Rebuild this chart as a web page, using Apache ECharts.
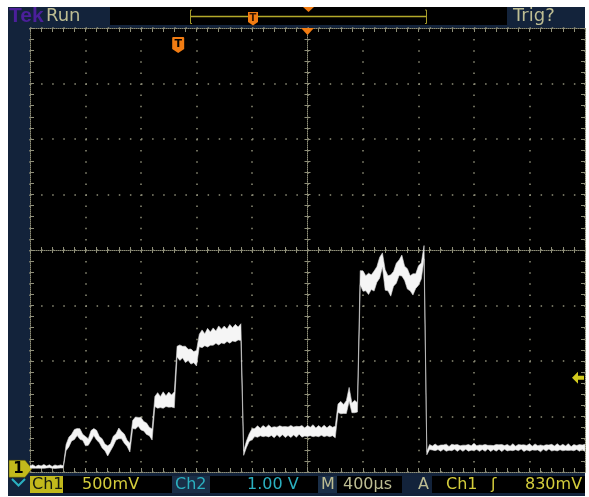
<!DOCTYPE html>
<html>
<head>
<meta charset="utf-8">
<script src="https://cdn.jsdelivr.net/npm/echarts/dist/echarts.min.js"></script>
<style>
  html, body { margin: 0; padding: 0; background: #fff; }
  #scope { width: 589px; height: 497px; }
</style>
</head>
<body>
<div id="scope"></div>
<script>
// Channel 1 acquisition: one sample every SAMPLE_US microseconds.
// ch1mV is the trace centre, ch1NoiseMv the half-height of the noise band around it.
const SAMPLE_US = 20;
const US_PER_DIV = 400;       // horizontal scale (M 400µs)
const MV_PER_DIV = 500;       // Ch1 vertical scale (500mV)
const CH1_POSITION_DIV = -3.96;  // Ch1 ground level, divisions from screen centre
const TRIGGER_MV = 830;       // A trigger level on Ch1
const TRIGGER_POS_DIV = -2.33;   // trigger point in the record, divisions from centre

const ch1Idle = [25, 30, 22, 28, 24, 30, 25, 32, 22, 28, 25, 30, 26];
const ch1Ripple = [200, 250, 290, 318, 340, 322, 292, 258, 250, 308, 340, 312,
                   272, 238, 202, 170, 202, 258, 296, 328, 312, 280, 238, 200];
const ch1Step1 = [408, 422, 432, 415, 392, 370, 345, 318];
const ch1Step2 = [615, 625, 610, 628, 618, 632, 620, 630];
const ch1Step3 = [1065, 1055, 1060, 1040, 1035, 1020, 1015, 1005];
const ch1Step4 = [1165, 1180, 1172, 1190, 1182, 1200, 1195, 1210,
                  1205, 1215, 1212, 1225, 1220, 1232, 1228, 1240];
const ch1Low = [150, 230, 290, 320, 335, 345, 340, 348, 342, 350, 345, 338,
                350, 344, 352, 340, 348, 345, 350, 342, 355, 346, 340, 350,
                345, 352, 340, 348, 344, 350, 342, 348, 345, 340];
const ch1Step5 = [555, 560, 548, 565, 680, 558, 570, 562];
const ch1High = [1730, 1700, 1680, 1675, 1690, 1700, 1760, 1820, 1890, 1710, 1680, 1660,
                 1720, 1770, 1820, 1840, 1770, 1720, 1680, 1670, 1700, 1750, 1790, 1960];
const ch1Tail = [150, 205,
  196, 202, 198, 195, 204, 199, 193, 201, 205, 197,
  200, 194, 203, 198, 196, 206, 199, 195, 202, 197,
  204, 193, 200, 198, 205, 196, 201, 199, 194, 203,
  197, 200, 206, 195, 199, 202, 196, 204, 198, 193,
  201, 197, 205, 199, 195, 202, 198, 200, 196, 204,
  193, 199, 201, 197, 203, 198];

const ch1mV = [].concat(ch1Idle, ch1Ripple, ch1Step1, ch1Step2, ch1Step3, ch1Step4,
                        ch1Low, ch1Step5, ch1High, ch1Tail);

const ch1NoiseMv = [
  // idle
  10, 16, 8, 14, 11, 17, 9, 13, 8, 16, 11, 14, 10,
  // ripple
  28, 44, 30, 46, 32, 48, 27, 42, 30, 46, 31, 44, 28, 42, 30, 46, 32, 44, 28, 48, 33, 42, 28, 40,
  // step 1
  36, 54, 40, 56, 42, 52, 38, 50,
  // step 2
  46, 70, 50, 74, 48, 68, 54, 72,
  // step 3
  48, 70, 52, 74, 50, 68, 50, 70,
  // step 4
  56, 80, 54, 84, 60, 78, 56, 86, 62, 80, 56, 84, 60, 78, 58, 76,
  // low plateau
  20, 30, 34, 50, 36, 52, 34, 50, 38, 54, 36, 50, 34, 52, 36, 50, 38, 54,
  36, 50, 34, 52, 36, 50, 38, 54, 36, 50, 34, 52, 36, 50, 38, 52,
  // step 5
  38, 56, 40, 58, 62, 44, 56, 42,
  // high plateau
  64, 92, 68, 96, 66, 90, 70, 94, 64, 92, 68, 96, 66, 90, 70, 94, 64, 92, 68, 96, 66, 88, 72, 60,
  // tail
  15, 22,
  18, 30, 16, 28, 20, 32, 17, 29, 19, 31,
  16, 28, 18, 30, 20, 32, 17, 29, 19, 31,
  16, 28, 18, 30, 20, 32, 17, 29, 19, 31,
  16, 28, 18, 30, 20, 32, 17, 29, 19, 31,
  16, 28, 18, 30, 20, 32, 17, 29, 19, 31,
  16, 28, 18, 30, 20, 32
];

// time -> horizontal divisions from centre, mV -> vertical divisions from centre
const toDivX = t => t / US_PER_DIV - 5;
const toDivY = mv => mv / MV_PER_DIV + CH1_POSITION_DIV;

const GRAT = '#8e8e78';
const NAVY = '#13233b';
const NAVY_HI = '#1a2e47';
const KHAKI = '#bdbd93';
const YELLOW = '#d4cd3c';
const CH1_FILL = '#c2b91c';
const CYAN = '#2bb0c0';
const ORANGE = '#f27c12';
const FONT = '"DejaVu Sans", sans-serif';

function xAxisDef(opts) {
  return Object.assign({
    type: 'value', min: -5, max: 5, interval: 1,
    axisLabel: { show: false },
    axisLine: { show: true, onZero: false, lineStyle: { color: GRAT, width: 1, type: [1, 1] } },
    axisTick: { show: true, inside: true, length: 4, lineStyle: { color: GRAT } },
    minorTick: { show: true, splitNumber: 5, length: 4, lineStyle: { color: GRAT } },
    splitLine: { show: false }
  }, opts);
}
function yAxisDef(opts) {
  return Object.assign({
    type: 'value', min: -4, max: 4, interval: 1,
    axisLabel: { show: false },
    axisLine: { show: true, onZero: false, lineStyle: { color: GRAT, width: 1, type: [1, 1] } },
    axisTick: { show: true, inside: true, length: 4, lineStyle: { color: GRAT } },
    minorTick: { show: true, splitNumber: 5, length: 4, lineStyle: { color: GRAT } },
    splitLine: { show: false }
  }, opts);
}
const centreLine = { show: true, onZero: true, onZeroAxisIndex: 0,
                     lineStyle: { color: GRAT, width: 1, type: [1, 1] } };
const centreTick = { show: true, inside: true, length: 3, lineStyle: { color: GRAT } };
const gridDots = { show: true, lineStyle: { color: GRAT, width: 1.5, type: [1.5, 9.6] } };

function text(str, x, y, fill, size, weight, family) {
  return {
    type: 'text', z: 100,
    style: { text: str, x: x, y: y, fill: fill,
             font: (weight || 'normal') + ' ' + size + 'px ' + (family || FONT),
             textVerticalAlign: 'middle', verticalAlign: 'middle' }
  };
}
function box(x, y, w, h, fill) {
  return { type: 'rect', z: 90, shape: { x: x, y: y, width: w, height: h }, style: { fill: fill } };
}
const shieldPath = 'path://M1,0 L11,0 Q12,0 12,1 L12,12 L6,16 L0,12 L0,1 Q0,0 1,0 Z';

// The trace is drawn as one filled noise band: upper edge left to right, lower edge back.
function renderTrace(params, api) {
  const upper = ch1mV.map((v, i) => api.coord([toDivX(i * SAMPLE_US), toDivY(v + ch1NoiseMv[i])]));
  const lower = ch1mV.map((v, i) => api.coord([toDivX(i * SAMPLE_US), toDivY(v - ch1NoiseMv[i])]));
  return {
    type: 'polygon',
    shape: { points: upper.concat(lower.reverse()) },
    style: { fill: '#f5f5f5', stroke: '#d8d8d8', lineWidth: 0.6 }
  };
}

const option = {
  backgroundColor: '#ffffff',
  animation: false,
  grid: { left: 30, top: 28, right: 4, bottom: 25, show: true,
          backgroundColor: '#000', borderWidth: 0, containLabel: false, outerBoundsMode: 'none' },
  xAxis: [
    xAxisDef({ position: 'bottom', axisLine: centreLine, axisTick: centreTick,
               minorTick: { show: true, splitNumber: 5, length: 3, lineStyle: { color: GRAT } },
               splitLine: gridDots }),
    xAxisDef({ position: 'top', axisLine: Object.assign({}, centreLine, { show: false }), axisTick: centreTick,
               minorTick: { show: true, splitNumber: 5, length: 3, lineStyle: { color: GRAT } } }),
    xAxisDef({ position: 'bottom' }),
    xAxisDef({ position: 'top' })
  ],
  yAxis: [
    yAxisDef({ position: 'left', axisLine: centreLine, axisTick: centreTick,
               minorTick: { show: true, splitNumber: 5, length: 3, lineStyle: { color: GRAT } },
               splitLine: gridDots }),
    yAxisDef({ position: 'right', axisLine: Object.assign({}, centreLine, { show: false }), axisTick: centreTick,
               minorTick: { show: true, splitNumber: 5, length: 3, lineStyle: { color: GRAT } } }),
    yAxisDef({ position: 'left' }),
    yAxisDef({ position: 'right' })
  ],
  series: [
    {
      name: 'Ch1', type: 'custom', xAxisIndex: 0, yAxisIndex: 0,
      renderItem: renderTrace,
      data: [[0, 0]],
      clip: true,
      z: 5,
      markPoint: {
        silent: true,
        animation: false,
        data: [
          { // trigger level arrow on the right edge
            coord: [5, toDivY(TRIGGER_MV)],
            symbol: 'path://M0,6 L6,0 L6,4 L12,4 L12,8 L6,8 L6,12 Z',
            symbolSize: [12, 12], symbolOffset: [-7, 0],
            itemStyle: { color: '#d2ca1e' }, label: { show: false }
          },
          { // Ch1 ground marker
            coord: [-5, toDivY(0)],
            symbol: 'path://M0,0 L16,0 L23,8.5 L16,17 L0,17 Z',
            symbolSize: [23, 17], symbolOffset: [-9.5, -1],
            itemStyle: { color: CH1_FILL, borderColor: '#5a5400', borderWidth: 0.5 },
            label: { show: true, formatter: '1', color: '#000', fontSize: 15, fontWeight: 'bold',
                     fontFamily: 'DejaVu Sans', offset: [-2, 0] }
          },
          { // trigger point in the record
            coord: [TRIGGER_POS_DIV, 4],
            symbol: shieldPath, symbolSize: [12, 16], symbolOffset: [0, 17],
            itemStyle: { color: ORANGE },
            label: { show: true, formatter: 'T', color: '#000', fontSize: 11, fontWeight: 'bold',
                     fontFamily: 'DejaVu Sans', offset: [0, -1] }
          },
          { // expansion point at screen centre
            coord: [0, 4],
            symbol: 'triangle', symbolRotate: 180, symbolSize: [13, 7], symbolOffset: [0, 3.5],
            itemStyle: { color: ORANGE }, label: { show: false }
          }
        ]
      }
    }
  ],
  graphic: [
    { type: 'rect', z: -100, shape: { x: 8, y: 7, width: 577, height: 489 }, style: { fill: NAVY } },
    // header
    text('Tek', 9, 16.5, '#4b1f9a', 21, 'bold', '"Liberation Sans", sans-serif'),
    text('Run', 46, 16.5, KHAKI, 18),
    box(110, 7, 397, 18, '#000'),
    { type: 'polyline', z: 95, shape: { points: [[192, 10], [190.5, 10], [190.5, 23.5], [192, 23.5]] },
      style: { stroke: '#a49c2c', lineWidth: 1, fill: null } },
    { type: 'line', z: 95, shape: { x1: 191, y1: 16.5, x2: 426, y2: 16.5 },
      style: { stroke: '#b4a92a', lineWidth: 1.5 } },
    { type: 'polyline', z: 95, shape: { points: [[425, 10], [426.5, 10], [426.5, 23.5], [425, 23.5]] },
      style: { stroke: '#a49c2c', lineWidth: 1, fill: null } },
    { type: 'polygon', z: 96, shape: { points: [[248, 12], [258, 12], [258, 22], [253, 25.5], [248, 22]] },
      style: { fill: ORANGE } },
    { type: 'text', z: 97, style: { text: 'T', x: 253, y: 18.5, fill: '#3a1800',
          font: 'bold 10px ' + FONT, textAlign: 'center', align: 'center',
          textVerticalAlign: 'middle', verticalAlign: 'middle' } },
    { type: 'polygon', z: 96, shape: { points: [[303, 7], [314, 7], [308.5, 12]] }, style: { fill: ORANGE } },
    text('Trig?', 513, 16.5, KHAKI, 18),
    // footer readouts
    box(30, 476, 33, 17, CH1_FILL),
    text('Ch1', 32, 485, '#151a10', 16),
    box(63, 476, 109, 17, '#000'),
    text('500mV', 82, 485, YELLOW, 16),
    box(172, 476, 38, 17, NAVY_HI),
    text('Ch2', 175, 485, CYAN, 16),
    box(210, 476, 108, 17, '#000'),
    text('1.00 V', 247, 485, CYAN, 16),
    box(318, 476, 19, 17, NAVY_HI),
    text('M', 321, 485, KHAKI, 16),
    box(337, 476, 65, 17, '#000'),
    text('400µs', 343, 485, KHAKI, 16),
    text('A', 418, 485, KHAKI, 16),
    box(432, 476, 153, 17, '#000'),
    text('Ch1', 446, 485, YELLOW, 16),
    text('ʃ', 491, 485, YELLOW, 16),
    text('830mV', 525, 485, YELLOW, 16),
    // Ch2 marker pointing off screen below
    { type: 'polyline', z: 95, shape: { points: [[12, 479], [18.5, 485.5], [25, 479]] },
      style: { stroke: CYAN, lineWidth: 2, fill: null } }
  ]
};

const chart = echarts.init(document.getElementById('scope'), null, { renderer: 'canvas' });
chart.setOption(option);
</script>
</body>
</html>
